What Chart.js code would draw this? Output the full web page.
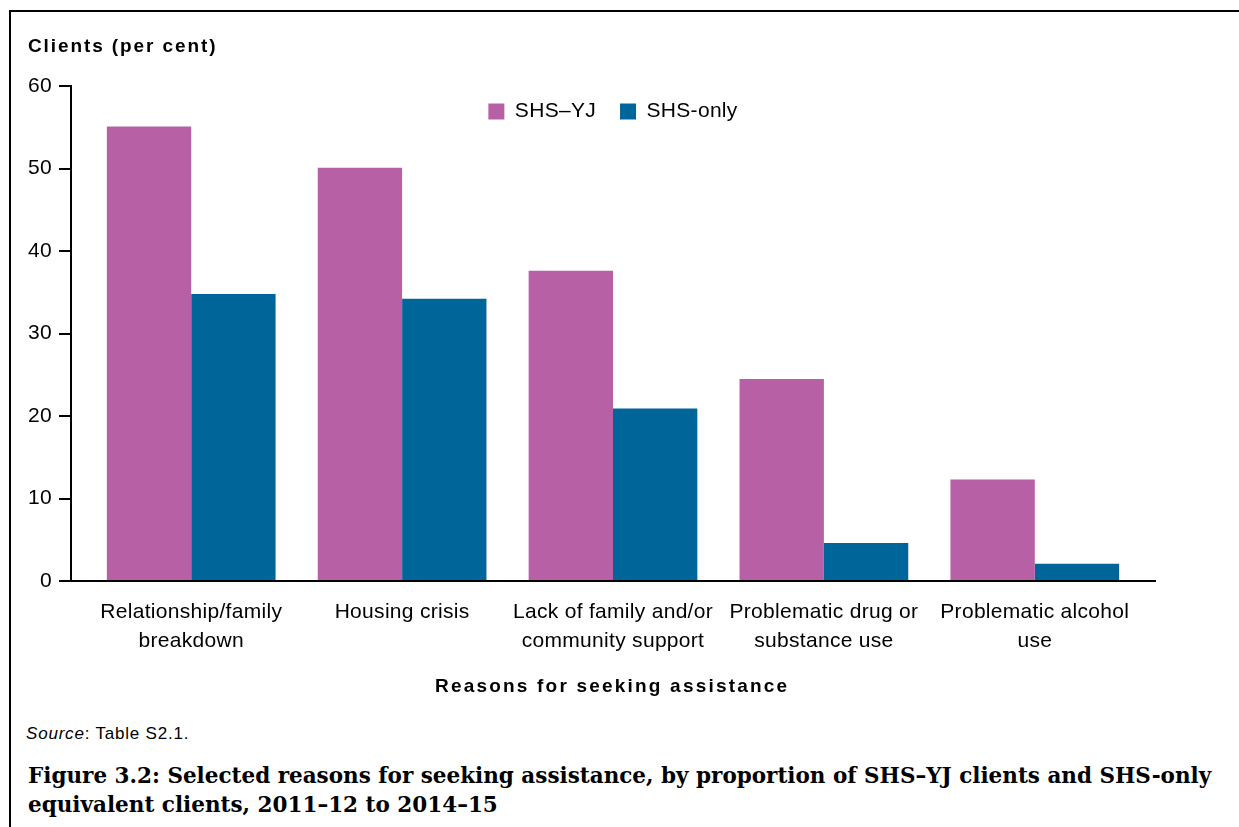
<!DOCTYPE html>
<html>
<head>
<meta charset="utf-8">
<script src="https://cdn.jsdelivr.net/npm/chart.js@4"></script>
<style>
  body { margin: 0; background: #fff; width: 1239px; height: 827px; overflow: hidden; position: relative; }
  .frame { position: absolute; left: 9px; top: 10px; width: 1300px; height: 900px; border-top: 2px solid #000; border-left: 2px solid #000; }
  #chart { position: absolute; left: 0; top: 0; }
  .sans { font-family: 'Liberation Sans', Arial, sans-serif; color: #000; position: absolute; white-space: nowrap; }
  .y-title { left: 28px; top: 36px; font-weight: bold; font-size: 19px; line-height: 19px; letter-spacing: 1.9px; }
  .x-title { left: 435px; top: 676px; font-weight: bold; font-size: 19px; line-height: 19px; letter-spacing: 2.2px; }
  .source { left: 26px; top: 725px; font-size: 17px; line-height: 17px; letter-spacing: 0.8px; }
  .caption { position: absolute; left: 28px; top: 761px; font-family: 'DejaVu Serif', 'Liberation Serif', serif; font-weight: bold; font-size: 21.5px; line-height: 29px; white-space: nowrap; color: #000; }
</style>
</head>
<body>
<div class="frame"></div>
<canvas id="chart" width="1239" height="700"></canvas>
<div class="sans y-title">Clients (per cent)</div>
<div class="sans x-title">Reasons for seeking assistance</div>
<div class="sans source"><i>Source</i>: Table S2.1.</div>
<div class="caption">Figure 3.2: Selected reasons for seeking assistance, by proportion of SHS–YJ clients and SHS-only<br>equivalent clients, 2011–12 to 2014–15</div>
<script>
// reasons, one entry per group (multi-line tick labels)
const reasons = [
    ['Relationship/family', 'breakdown'],
    ['Housing crisis'],
    ['Lack of family and/or', 'community support'],
    ['Problematic drug or', 'substance use'],
    ['Problematic alcohol', 'use'],
];
const seriesNames = ['SHS–YJ', 'SHS-only'];
const shsYj = [55.1, 50.1, 37.6, 24.5, 12.3];
const shsOnly = [34.8, 34.2, 20.9, 4.6, 2.1];
const yTicks = [0, 10, 20, 30, 40, 50, 60];

const PINK = '#B760A6';
const BLUE = '#006699';
const FONT = "'Liberation Sans', Arial, sans-serif";

// canvas text in the original is slightly tracked out
const letterSpacingPlugin = {
    id: 'letterSpacing',
    beforeUpdate(chart) { chart.ctx.letterSpacing = '0.3px'; },
    beforeDraw(chart) { chart.ctx.letterSpacing = '0.3px'; }
};

// legend floats inside the plot: take no layout height, then put its box back
const legendFloatPlugin = {
    id: 'legendFloat',
    beforeInit(chart) {
        const originalFit = chart.legend && chart.legend.fit ? chart.legend.fit : null;
        if (!originalFit) return;
        chart.legend.fit = function fit() {
            originalFit.call(this);
            this._realHeight = this.height;
            this.height = 0;
        };
    },
    afterLayout(chart) {
        const lg = chart.legend;
        if (!lg) return;
        lg.top -= 9;
        lg.height = lg._realHeight || 0;
        lg.bottom = lg.top + lg.height;
    }
};

const toPoints = arr => arr.map((v, i) => ({ x: i, y: v }));

Chart.defaults.font.family = FONT;
Chart.defaults.color = '#000';

new Chart(document.getElementById('chart'), {
    type: 'bar',
    data: {
        datasets: [
            { label: seriesNames[0], data: toPoints(shsYj), backgroundColor: PINK, borderWidth: 0 },
            { label: seriesNames[1], data: toPoints(shsOnly), backgroundColor: BLUE, borderWidth: 0 },
        ]
    },
    plugins: [letterSpacingPlugin, legendFloatPlugin],
    options: {
        responsive: false,
        animation: false,
        devicePixelRatio: 1,
        categoryPercentage: 0.8,
        barPercentage: 1.0,
        layout: { padding: { left: 0, top: 86, right: 84, bottom: 0 } },
        plugins: {
            tooltip: { enabled: false },
            legend: {
                position: 'top',
                align: 'center',
                fullSize: false,
                labels: {
                    boxWidth: 16,
                    boxHeight: 16,
                    padding: 24,
                    color: '#000',
                    font: { family: FONT, size: 21 }
                }
            }
        },
        scales: {
            x: {
                type: 'linear',
                offset: false,
                min: -0.57,
                max: 4.57,
                grid: { display: false, offset: false },
                border: { display: true, color: '#000', width: 2 },
                afterFit: s => { s.height = 119; },
                ticks: {
                    stepSize: 1,
                    includeBounds: false,
                    autoSkip: false,
                    maxRotation: 0,
                    padding: 9,
                    color: '#000',
                    font: { family: FONT, size: 21, lineHeight: 1.38 },
                    callback: v => Number.isInteger(v) && reasons[v] ? reasons[v] : ''
                }
            },
            y: {
                min: 0,
                max: 60,
                afterFit: s => { s.width = 71; },
                afterBuildTicks: s => { s.ticks = yTicks.map(v => ({ value: v })); },
                grid: {
                    drawOnChartArea: false,
                    drawTicks: true,
                    tickLength: 12,
                    tickColor: '#000',
                    lineWidth: 2
                },
                border: { display: true, color: '#000', width: 2 },
                ticks: {
                    padding: 7,
                    color: '#000',
                    font: { family: FONT, size: 21 }
                }
            }
        }
    }
});
</script>
</body>
</html>
